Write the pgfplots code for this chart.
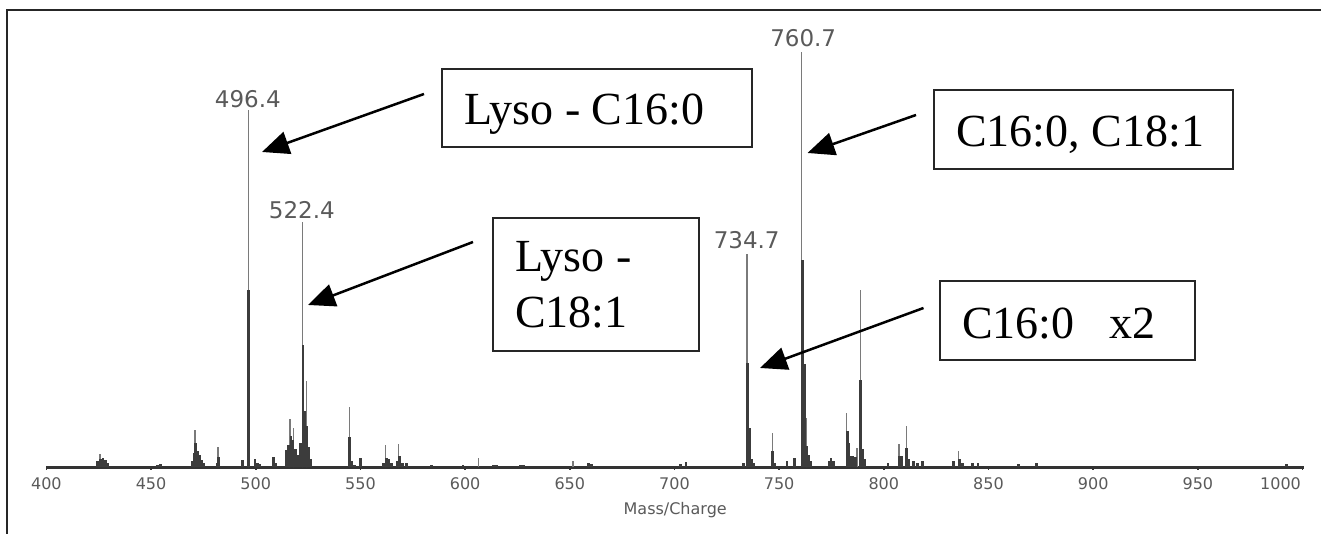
\documentclass[border=0pt]{standalone}
\usepackage{fontspec}
\setmainfont{Liberation Serif}
\newfontfamily\dejavu{DejaVu Sans}
\usepackage{pgfplots}
\pgfplotsset{compat=1.18}
\usetikzlibrary{arrows.meta}
\definecolor{spk}{HTML}{3C3C3C}
\definecolor{thin}{HTML}{7A7A7A}
\definecolor{lab}{HTML}{5A5A5A}
\begin{document}
\begin{tikzpicture}
\useasboundingbox (0pt,0pt) rectangle (1321pt,534pt);
\fill[white] (0pt,0pt) rectangle (1321pt,534pt);
% outer frame (cropped)
\draw[line width=2pt, color=black!85] (7pt,0pt) -- (7pt,524pt) -- (1321pt,524pt);
\begin{axis}[
  at={(46.4pt,66.5pt)}, anchor=south west,
  scale only axis, width=1257.6pt, height=415.5pt,
  xmin=400, xmax=1000.7, ymin=0, ymax=100,
  clip=false,
  axis y line=none,
  axis x line*=bottom,
  x axis line style={line width=2.5pt, color=black!80, -},
  xtick={400,450,500,550,600,650,700,750,800,850,900,950},
  xticklabels={400,450,500,550,600,650,700,750,800,850,900,950},
  extra x ticks={1000},
  extra x tick labels={1000},
  extra x tick style={xticklabel style={xshift=-22pt}},
  ytick=\empty,
  tick align=outside,
  major tick length=2.5pt,
  tick style={line width=1.5pt, color=black!80},
  xticklabel style={font=\dejavu\fontsize{16}{18}\selectfont, color=lab, inner sep=0pt, anchor=north, yshift=-7pt},
  xlabel={Mass/Charge},
  xlabel style={font=\dejavu\fontsize{16}{18}\selectfont, color=lab, at={(axis description cs:0.5,0)}, anchor=center, yshift=-42.5pt},
]
% thin tall spikes
\addplot[ycomb, mark=none, line width=1.3pt, color=thin] coordinates {
(425.6,3.2) (471.0,9.1) (482.0,5.0) (496.4,86.0) (516.3,11.7) (518.1,9.6)
(522.4,59.1) (524.4,20.8) (544.7,14.6) (562.0,5.4) (568.2,5.6) (606.3,2.2)
(651.6,1.5) (734.7,51.5) (746.8,8.2) (760.7,100) (763.1,12.0) (782.3,13.0)
(787.2,4.8) (788.7,42.6) (807.3,5.6) (810.8,10.0) (835.8,4.0)
};
% dense (thick) parts
\addplot[ycomb, mark=none, line width=2.8pt, color=spk] coordinates {
(424.5,1.5) (425.8,2.0) (427,2.2) (428.2,1.8) (429.3,1.2)
(453,0.6) (454.5,0.8)
(469.5,1.5) (470.5,3.5) (471.2,5.9) (472,4.0) (473,3.0) (474,1.8) (475,1.0)
(481.5,1.0) (482.3,2.5)
(493.7,1.7)
(496.6,42.7)
(499.6,2.0) (501,1.2) (502,0.8)
(508.4,2.5) (509.5,1.0)
(514.8,4.2) (515.8,5.5) (516.8,7.5) (517.8,6.5) (518.8,4.5) (519.8,3.0) (520.5,3.0)
(521.5,6.0) (522.6,29.5) (523.4,13.7) (524.5,10.0) (525.4,5.0) (526.4,2.0)
(544.9,7.3) (546,1.5) (547,0.6)
(550.1,2.2)
(561,1.0) (562.3,2.2) (563.5,2.0) (565,1.0)
(567.5,1.5) (568.5,2.7) (570,1.0) (572,1.0)
(584,0.5) (599,0.5)
(613.5,0.7) (615,0.6)
(626.5,0.5) (628,0.5)
(659,1.0) (660.5,0.8)
(703,0.8) (705.5,1.3)
(733,1.0) (734.9,25.1) (736,9.6) (737,2.0) (738,1.0)
(747.0,4.0) (748,1.2)
(753.8,1.6) (757.5,2.4)
(761.0,49.9) (762.3,24.9) (763.3,5.2) (764.3,3.0) (765,1.5)
(773.8,1.5) (774.8,2.2) (776,1.5)
(782.5,8.8) (783.3,6.0) (784.3,2.8) (785.3,2.8) (786.3,2.5) (789.0,21.1) (789.8,4.4) (791,2.0)
(802,1.2)
(807.5,2.8) (808.3,2.8) (811.0,4.8) (812,2.0) (814,1.5) (816,1.2) (818.5,1.5)
(833.1,1.5) (836.2,2.0) (837.5,1.2)
(842.5,1.0) (845,1.2)
(864.2,0.8) (873,1.0)
(992.3,0.8)
};
% peak labels
\begin{scope}[every node/.style={font=\dejavu\fontsize{23}{26}\selectfont, color=lab, inner sep=0pt, anchor=center}]
\node at (axis cs:496.2,88.7) {496.4};
\node at (axis cs:522.0,62.0) {522.4};
\node at (axis cs:734.5,54.75) {734.7};
\node at (axis cs:761.5,103.4) {760.7};
\end{scope}
\end{axis}
% annotation boxes
\begin{scope}[line width=2pt, color=black!85]
\draw (441.5pt,465pt) rectangle (751.5pt,387.3pt);
\draw (493pt,316.3pt) rectangle (699pt,183pt);
\draw (934pt,444pt) rectangle (1232.5pt,365pt);
\draw (939.5pt,253pt) rectangle (1195pt,174pt);
\end{scope}
\begin{scope}[every node/.style={font=\fontsize{46}{50}\selectfont, inner sep=0pt, anchor=base west, color=black}]
\node at (464pt,409pt) {Lyso - C16:0};
\node at (515pt,262pt) {Lyso -};
\node at (515pt,206pt) {C18:1};
\node at (956pt,387.5pt) {C16:0, C18:1};
\node at (962pt,195pt) {C16:0\hspace{35pt}x2};
\end{scope}
% arrows
\begin{scope}[line width=2.5pt, -{Triangle[length=27pt,width=23pt]}]
\draw (424pt,440pt) -- (262pt,382pt);
\draw (473pt,292pt) -- (308pt,229pt);
\draw (916pt,419pt) -- (807.5pt,381pt);
\draw (923.5pt,226pt) -- (760pt,166pt);
\end{scope}
\end{tikzpicture}
\end{document}
